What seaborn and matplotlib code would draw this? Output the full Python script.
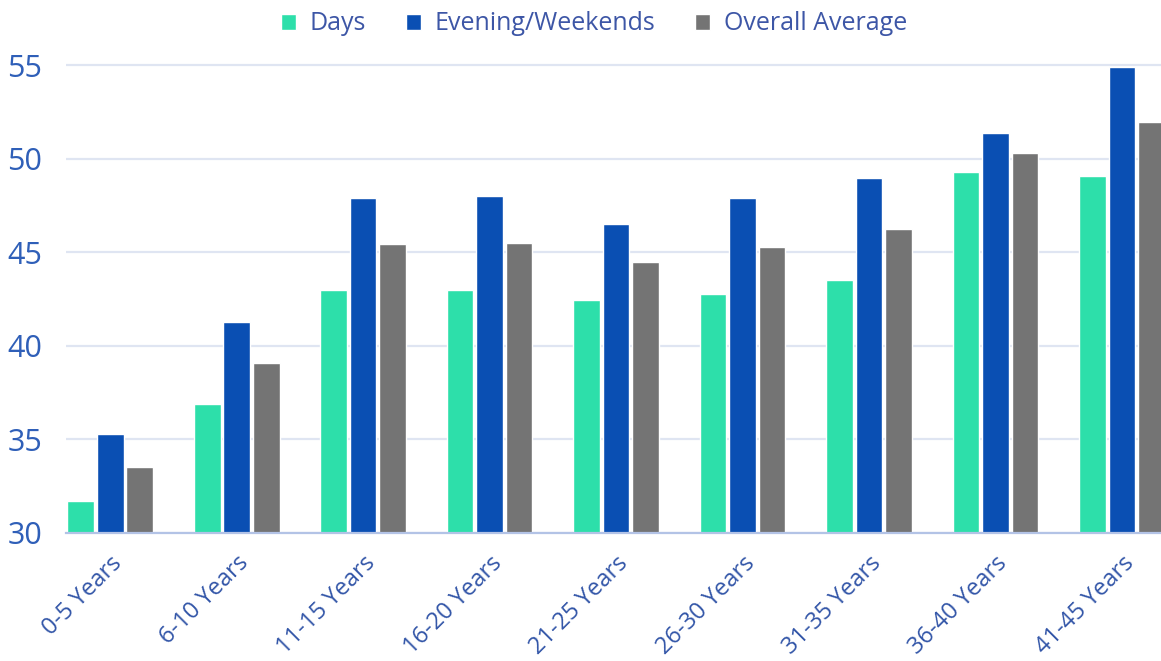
import matplotlib
matplotlib.use("Agg")
import matplotlib.pyplot as plt
import matplotlib.transforms as mtransforms
import seaborn as sns
import pandas as pd

categories = ["0-5 Years", "6-10 Years", "11-15 Years", "16-20 Years", "21-25 Years",
              "26-30 Years", "31-35 Years", "36-40 Years", "41-45 Years"]
days = [31.7, 36.9, 43.0, 43.0, 42.45, 42.75, 43.5, 49.3, 49.05]
evening_weekends = [35.3, 41.25, 47.9, 48.0, 46.5, 47.9, 48.95, 51.35, 54.9]
overall_average = [33.5, 39.1, 45.45, 45.5, 44.5, 45.3, 46.25, 50.3, 51.95]
series_names = ["Days", "Evening/Weekends", "Overall Average"]
y_ticks = [30, 35, 40, 45, 50, 55]

colors = {"Days": "#2ddfaa", "Evening/Weekends": "#0a4fb3", "Overall Average": "#747474"}

rows = []
for name, vals in zip(series_names, [days, evening_weekends, overall_average]):
    for cat, v in zip(categories, vals):
        rows.append({"Tenure": cat, "Series": name, "Value": v})
df = pd.DataFrame(rows)

sns.set_theme(style="white")
plt.rcParams["font.family"] = ["Open Sans", "DejaVu Sans"]

fig = plt.figure(figsize=(11.61, 6.61), dpi=100)
ax = fig.add_axes([66 / 1161, 128 / 661, 1095 / 1161, 0.7363])

sns.barplot(data=df, x="Tenure", y="Value", hue="Series", order=categories,
            hue_order=series_names, palette=colors, width=0.7, gap=0.1,
            saturation=1, ax=ax, legend=True)

ax.set_ylim(30, 56)
ax.set_xlim(-0.35, 8.308)
ax.set_yticks(y_ticks)
ax.set_yticklabels([str(t) for t in y_ticks])
ax.yaxis.grid(True, color="#dfe5f2", linewidth=1.6)
ax.set_axisbelow(True)
for side in ["top", "right", "left"]:
    ax.spines[side].set_visible(False)
ax.spines["bottom"].set_color("#b3c3e6")
ax.spines["bottom"].set_linewidth(1.6)
ax.set_xlabel("")
ax.set_ylabel("")
ax.tick_params(axis="both", length=0)
ax.tick_params(axis="y", labelsize=22, labelcolor="#2f5fb8", pad=17)
ax.tick_params(axis="x", labelsize=17, labelcolor="#3356a8", pad=13)

# rotated category labels, anchored at their upper-right end near each group centre
offset = mtransforms.ScaledTranslation(0 / 100, 0, fig.dpi_scale_trans)
for lbl in ax.get_xticklabels():
    lbl.set_rotation(45)
    lbl.set_ha("right")
    lbl.set_rotation_mode("anchor")
    lbl.set_transform(lbl.get_transform() + offset)

handles, labels = ax.get_legend_handles_labels()
ax.legend_.remove()
leg = fig.legend(handles, labels, loc="center", bbox_to_anchor=(594 / 1161, 1 - 24 / 661),
                 ncol=3, frameon=False, fontsize=18, handlelength=0.6, handleheight=0.6,
                 handletextpad=0.55, columnspacing=1.6)
for t in leg.get_texts():
    t.set_color("#3d56a6")

fig.savefig("out.png", dpi=100)
